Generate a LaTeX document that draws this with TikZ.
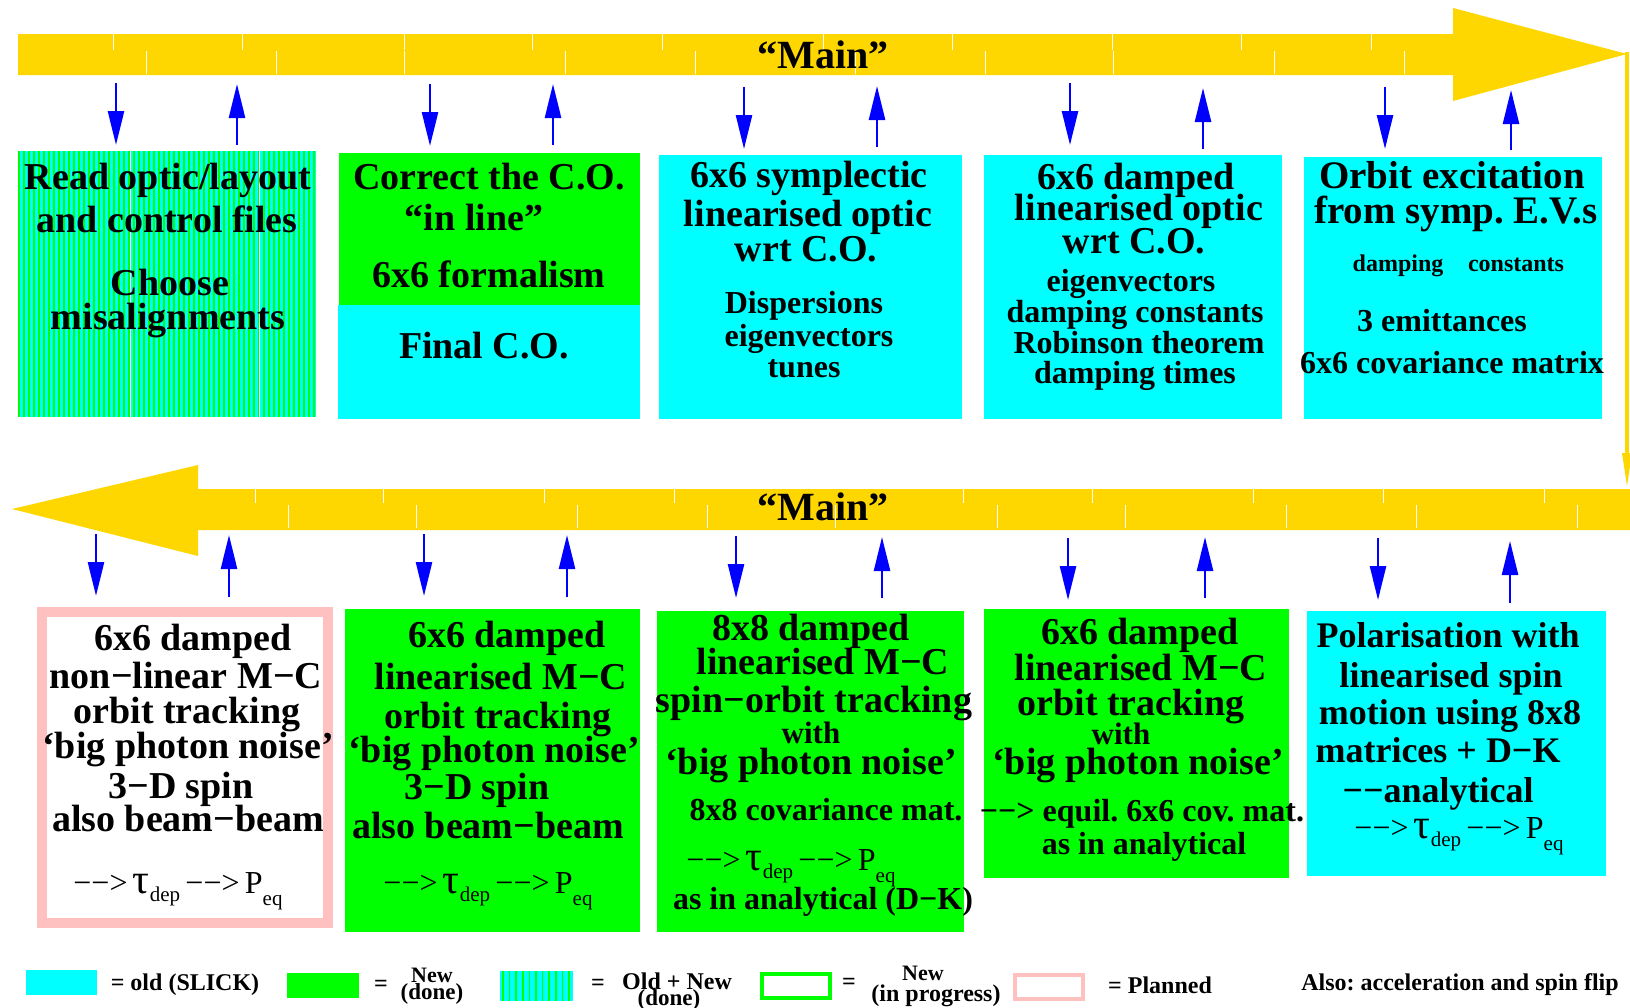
\documentclass[tikz,border=0pt]{standalone}
\usepackage{fontspec}
\setmainfont{Liberation Serif}
\usetikzlibrary{arrows.meta}
\definecolor{cyanc}{RGB}{0,255,255}
\definecolor{greenc}{RGB}{0,255,0}
\definecolor{goldc}{RGB}{255,215,0}
\definecolor{pinkc}{RGB}{255,192,192}
\definecolor{bluec}{RGB}{0,0,255}
\frenchspacing
\newcommand{\fs}[1]{\fontsize{#1}{#1}\selectfont}
\newcommand{\formula}{{\mdseries\fs{32}−−>\,{\fs{42}τ}\raisebox{-8pt}{\fs{21}dep}\,−−>\,P\raisebox{-12pt}{\fs{21}eq}}}
\begin{document}
\begin{tikzpicture}[x=1pt,y=-1pt,
  T/.style={inner sep=0pt, anchor=base, font=\bfseries\fs{38}},
  S/.style={inner sep=0pt, anchor=base, font=\bfseries\fs{32}},
  L/.style={inner sep=0pt, anchor=base, font=\bfseries\fs{24}},
  F/.style={inner sep=0pt, anchor=base},
  boxc/.style={fill=cyanc, inner sep=0pt},
  boxg/.style={fill=greenc, inner sep=0pt},
  barrow/.style={draw=bluec, line width=2.5pt, -{Triangle[length=34pt,width=16pt]}},
  tick/.style={draw=white, line width=1pt}]
\useasboundingbox (0,0) rectangle (1630,1007);

% ---- main arrows ----
\fill[goldc] (18,34) -- (1453,34) -- (1453,8) -- (1627,54) -- (1453,101) -- (1453,75) -- (18,75) -- cycle;
\fill[goldc] (12,509) -- (198,465) -- (198,489) -- (1630,489) -- (1630,530) -- (198,530) -- (198,556) -- cycle;
\coordinate (rtop) at (1627,52);
\coordinate (rbot) at (1627,488);
\draw[goldc, line width=3.5pt, -{Triangle[length=35pt,width=9pt]}] (rtop) -- (rbot);
\foreach \x in {113,242,404,532,662,823,952,1112,1241,1371} \draw[tick] (\x,34) -- (\x,50);
\foreach \x in {146,276,404,565,695,855,985,1113,1274,1404} \draw[tick] (\x,51) -- (\x,74);
\foreach \x in {255,383,544,674,963,1092,1253,1383,1544} \draw[tick] (\x,489) -- (\x,503);
\foreach \x in {288,416,577,707,835,997,1125,1286,1416,1577} \draw[tick] (\x,505) -- (\x,528);
\node[inner sep=0pt, anchor=base, font=\bfseries\fs{40}] (main1) at (823,68) {“Main”};
\node[inner sep=0pt, anchor=base, font=\bfseries\fs{40}] (main2) at (823,520) {“Main”};

% ---- top boxes ----
\node[boxc, minimum width=298, minimum height=266] (box1) at (167,284) {};
\begin{scope}
\clip (18,151) rectangle (316,417);
\foreach \x in {19,24,...,316} \draw[greenc, line width=1.6pt] (\x,151) -- (\x,417);
\draw[white, line width=0.8pt] (130,151) -- (130,417);
\draw[white, line width=0.8pt] (259,151) -- (259,417);
\end{scope}
\node[boxg, minimum width=301, minimum height=152] (box2a) at (489.5,229) {};
\node[boxc, minimum width=302, minimum height=114] (box2b) at (489,362) {};
\node[boxc, minimum width=303, minimum height=264] (box3) at (810.5,287) {};
\node[boxc, minimum width=298, minimum height=264] (box4) at (1133,287) {};
\node[boxc, minimum width=298, minimum height=262] (box5) at (1453,288) {};

% ---- bottom boxes ----
\node[draw=pinkc, line width=10pt, fill=white, inner sep=0pt, minimum width=286, minimum height=311] (bb1) at (185,767.5) {};
\node[boxg, minimum width=295, minimum height=323] (bb2) at (492.5,770.5) {};
\node[boxg, minimum width=307, minimum height=321] (bb3) at (810.5,771.5) {};
\node[boxg, minimum width=305, minimum height=269] (bb4) at (1136.5,743.5) {};
\node[boxc, minimum width=299, minimum height=265] (bb5) at (1456.5,743.5) {};

% ---- blue arrows ----
\foreach \n/\x/\a/\b in {u1/116/83/145, u2/237/145/84, u3/430/84/146, u4/553/145/84, u5/744/87/149,
  u6/877/147/86, u7/1070/83/145, u8/1203/149/88, u9/1385/87/149, u10/1511/150/90,
  d1/96/534/596, d2/229/597/535, d3/424/534/596, d4/567/597/535, d5/736/536/598,
  d6/882/598/537, d7/1068/538/600, d8/1205/598/537, d9/1378/538/600, d10/1510/603/541} {
  \coordinate (s\n) at (\x,\a);
  \coordinate (e\n) at (\x,\b);
  \draw[barrow] (s\n) -- (e\n);
}

% ---- top box texts ----
\node[T] (t1a) at (168,189) {Read optic/layout};
\node[T] (t1b) at (167,232) {and control files};
\node[T] (t1c) at (170,295) {Choose};
\node[T] (t1d) at (168,329) {misalignments};

\node[T] (t2a) at (489,189) {Correct the C.O.};
\node[T] (t2b) at (474,230) {“in line”};
\node[T] (t2c) at (489,287) {6x6 formalism};
\node[T] (t2d) at (484,358) {Final C.O.};

\node[T] (t3a) at (809,187) {6x6 symplectic};
\node[T] (t3b) at (808,226) {linearised optic};
\node[T] (t3c) at (806,261) {wrt C.O.};
\node[S] (t3d) at (804,313) {Dispersions};
\node[S] (t3e) at (809,346) {eigenvectors};
\node[S] (t3f) at (804,377) {tunes};

\node[T] (t4a) at (1136,189) {6x6 damped};
\node[T] (t4b) at (1139,220) {linearised optic};
\node[T] (t4c) at (1134,253) {wrt C.O.};
\node[S] (t4d) at (1131,291) {eigenvectors};
\node[S] (t4e) at (1135,322) {damping constants};
\node[S] (t4f) at (1139,353) {Robinson theorem};
\node[S] (t4g) at (1135,383) {damping times};

\node[T, font=\bfseries\fs{39}] (t5a) at (1452,188) {Orbit excitation};
\node[T, font=\bfseries\fs{39}] (t5b) at (1456,223) {from symp. E.V.s};
\node[L] (t5c) at (1398,271) {damping};
\node[L] (t5d) at (1516,271) {constants};
\node[S] (t5e) at (1442,331) {3 emittances};
\node[S] (t5f) at (1452,373) {6x6 covariance matrix};

% ---- bottom box texts ----
\node[T] (b1a) at (193,650) {6x6 damped};
\node[T] (b1b) at (186,688) {non−linear M−C};
\node[T] (b1c) at (187,723) {orbit tracking};
\node[T] (b1d) at (188,758) {‘big photon noise’};
\node[T] (b1e) at (181,798) {3−D spin};
\node[T] (b1f) at (188,831) {also beam−beam};
\node[F] (b1g) at (178,893) {\formula};

\node[T] (b2a) at (507,647) {6x6 damped};
\node[T] (b2b) at (501,689) {linearised M−C};
\node[T] (b2c) at (498,728) {orbit tracking};
\node[T] (b2d) at (494,762) {‘big photon noise’};
\node[T] (b2e) at (477,799) {3−D spin};
\node[T] (b2f) at (488,838) {also beam−beam};
\node[F] (b2g) at (488,893) {\formula};

\node[T] (b3a) at (811,640) {8x8 damped};
\node[T] (b3b) at (823,674) {linearised M−C};
\node[T] (b3c) at (814,712) {spin−orbit tracking};
\node[T, font=\bfseries\fs{31}] (b3d) at (811,743) {with};
\node[T] (b3e) at (811,774) {‘big photon noise’};
\node[S] (b3f) at (826,820) {8x8 covariance mat.};
\node[F] (b3g) at (791,870) {\formula};
\node[S] (b3h) at (823,909) {as in analytical (D−K)};

\node[T] (b4a) at (1140,644) {6x6 damped};
\node[T] (b4b) at (1141,680) {linearised M−C};
\node[T] (b4c) at (1131,715) {orbit tracking};
\node[T, font=\bfseries\fs{31}] (b4d) at (1121,744) {with};
\node[T] (b4e) at (1138,774) {‘big photon noise’};
\node[S] (b4f) at (1142,821) {−−> equil. 6x6 cov. mat.};
\node[S] (b4g) at (1144,854) {as in analytical};

\node[T, font=\bfseries\fs{36}] (b5a) at (1448,647) {Polarisation with};
\node[T, font=\bfseries\fs{36}] (b5b) at (1451,687) {linearised spin};
\node[T, font=\bfseries\fs{36}] (b5c) at (1450,724) {motion using 8x8};
\node[T, font=\bfseries\fs{36}] (b5d) at (1438,762) {matrices + D−K};
\node[T, font=\bfseries\fs{36}] (b5e) at (1438,802) {−−analytical};
\node[F] (b5f) at (1459,838) {\formula};

% ---- legend ----
\node[boxc, minimum width=71, minimum height=25] (lg1) at (61.5,982.5) {};
\node[L] (lt1) at (185,990) {= old (SLICK)};
\node[boxg, minimum width=72, minimum height=25] (lg2) at (323,985.5) {};
\node[L] (lt2) at (381,991) {=};
\node[L, font=\bfseries\fs{22}] (lt2a) at (432,982) {New};
\node[L, font=\bfseries\fs{23}] (lt2b) at (432,999) {(done)};
\node[boxc, minimum width=73, minimum height=30] (lg3) at (536.5,986) {};
\begin{scope}
\clip (500,971) rectangle (573,1001);
\foreach \x in {503,509.6,...,573} \draw[greenc, line width=1.6pt] (\x,971) -- (\x,1001);
\end{scope}
\node[L] (lt3) at (598,990) {=};
\node[L] (lt3a) at (677,989) {Old + New};
\node[L, font=\bfseries\fs{23}] (lt3b) at (669,1005) {(done)};
\node[draw=greenc, line width=4pt, inner sep=0pt, minimum width=68, minimum height=24] (lg4) at (796,986) {};
\node[L] (lt4) at (849,989) {=};
\node[L, font=\bfseries\fs{22}] (lt4a) at (923,980) {New};
\node[L] (lt4b) at (936,1001) {(in progress)};
\node[draw=pinkc, line width=4pt, inner sep=0pt, minimum width=68, minimum height=24] (lg5) at (1049,987) {};
\node[L] (lt5) at (1160,993) {= Planned};
\node[L] (lt6) at (1460,990) {Also: acceleration and spin flip};
\end{tikzpicture}
\end{document}
